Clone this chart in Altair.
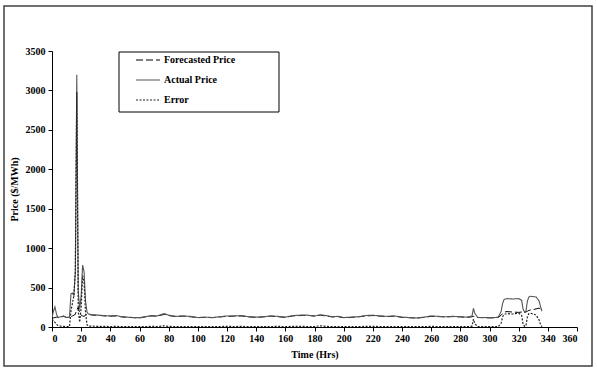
import altair as alt
import pandas as pd

hours = [0, 1, 2, 3, 4, 6, 8, 10, 12, 13, 14, 15, 16, 17, 18, 19, 20, 21, 22, 23, 24, 25,
         28, 32, 36, 40, 44, 48, 52, 56, 60, 64, 68, 72, 77, 80, 85, 90, 95, 100, 105, 110,
         115, 120, 125, 130, 135, 140, 145, 150, 155, 160, 165, 170, 175, 180, 184, 188, 192,
         196, 200, 205, 210, 215, 220, 225, 230, 235, 240, 245, 250, 255, 260, 265, 270, 275,
         280, 285, 288, 289, 290, 292, 296, 300, 304, 306, 308, 309, 310, 312, 316, 320, 322,
         323, 324, 325, 326, 327, 328, 330, 332, 334, 335, 336]

actual = [120, 200, 255, 170, 120, 130, 140, 120, 125, 420, 430, 400, 700, 3200, 450, 230, 400,
          785, 700, 330, 190, 165, 155, 150, 145, 140, 145, 130, 125, 120, 118, 130, 145, 140,
          170, 150, 135, 140, 135, 120, 125, 120, 130, 140, 140, 145, 130, 125, 130, 140, 135,
          125, 145, 150, 150, 140, 155, 145, 130, 135, 120, 125, 130, 145, 150, 140, 135, 140,
          125, 120, 115, 125, 140, 135, 130, 135, 130, 125, 140, 235, 170, 120, 120, 118, 120,
          125, 200, 300, 350, 360, 355, 360, 340, 230, 190, 200, 330, 380, 390, 385, 380, 330,
          260, 200]

forecast = [110, 115, 120, 125, 120, 125, 135, 120, 125, 130, 140, 150, 160, 220, 250, 180, 150,
            140, 135, 150, 160, 160, 150, 148, 140, 138, 140, 128, 122, 118, 115, 128, 140, 138,
            160, 145, 132, 138, 130, 118, 122, 118, 128, 135, 138, 140, 128, 122, 128, 138, 130,
            122, 140, 145, 148, 138, 150, 140, 128, 132, 118, 122, 128, 140, 145, 138, 132, 138,
            122, 118, 112, 122, 135, 132, 128, 132, 128, 122, 130, 135, 130, 120, 118, 116, 118,
            122, 150, 170, 190, 195, 190, 185, 190, 200, 185, 190, 200, 210, 215, 220, 230, 240,
            230, 200]

error = [100, 80, 60, 35, 20, 10, 8, 5, 5, 200, 300, 400, 700, 2980, 200, 60, 250, 650, 560, 180,
         30, 10, 10, 8, 8, 6, 8, 5, 5, 4, 5, 5, 8, 6, 15, 8, 5, 6, 6, 4, 5, 4, 5, 8, 6, 8, 5, 5,
         5, 6, 8, 5, 8, 8, 6, 6, 15, 8, 5, 6, 4, 5, 5, 8, 8, 6, 6, 5, 5, 4, 4, 5, 8, 5, 4, 5, 4,
         5, 10, 100, 40, 5, 4, 4, 4, 5, 50, 130, 160, 170, 165, 175, 150, 40, 8, 15, 130, 170,
         175, 165, 150, 90, 30, 5]

series_names = ["Forecasted Price", "Actual Price", "Error"]
x_ticks = list(range(0, 361, 20))
y_ticks = list(range(0, 3501, 500))

rows = []
for name, vals in zip(series_names, [forecast, actual, error]):
    for h, v in zip(hours, vals):
        rows.append({"Time": h, "Price": v, "Series": name})
df = pd.DataFrame(rows)

FONT = "Liberation Serif"

lines = alt.Chart(df).mark_line(clip=True).encode(
    x=alt.X("Time:Q", scale=alt.Scale(domain=[0, 360], nice=False),
            axis=alt.Axis(values=x_ticks, format="d", title="Time (Hrs)", grid=False,
                          tickSize=4, labelPadding=2, titlePadding=6)),
    y=alt.Y("Price:Q", scale=alt.Scale(domain=[0, 3500], nice=False),
            axis=alt.Axis(values=y_ticks, format="d", title="Price ($/MWh)", grid=False,
                          tickSize=4, labelPadding=3, titlePadding=6)),
    color=alt.Color("Series:N", sort=series_names,
                    scale=alt.Scale(domain=series_names, range=["#000000", "#555555", "#222222"]),
                    legend=alt.Legend(title=None, orient="none", legendX=83, legendY=3,
                                      symbolType="stroke", symbolSize=576, clipHeight=12,
                                      rowPadding=8, padding=0, labelOffset=3,
                                      symbolStrokeWidth=1)),
    strokeDash=alt.StrokeDash("Series:N", sort=series_names,
                              scale=alt.Scale(domain=series_names,
                                              range=[[7, 3], [1, 0], [2, 1.5]]),
                              legend=None),
    strokeWidth=alt.StrokeWidth("Series:N", sort=series_names,
                                scale=alt.Scale(domain=series_names, range=[1, 1.2, 0.8]),
                                legend=None),
)

legend_box = alt.Chart(pd.DataFrame({"a": [0]})).mark_rect(
    fill="white", stroke="black", strokeWidth=1
).encode(x=alt.value(67), x2=alt.value(227), y=alt.value(1), y2=alt.value(61))

frame = alt.Chart(pd.DataFrame({"a": [0]})).mark_rect(
    fill=None, stroke="#404040", strokeWidth=1.5
).encode(x=alt.value(-48), x2=alt.value(540), y=alt.value(-45), y2=alt.value(315))

chart = alt.layer(frame, legend_box, lines).properties(
    width=525, height=276,
    autosize=alt.AutoSizeParams(type="none"),
    padding={"left": 52, "top": 51, "right": 20, "bottom": 45},
    background="white",
).configure_view(stroke=None).configure_axis(
    domainColor="black", tickColor="black", labelColor="black", titleColor="black",
    labelFont=FONT, titleFont=FONT, labelFontWeight="bold", titleFontWeight="bold",
    labelFontSize=10, titleFontSize=10,
).configure_legend(
    labelFont=FONT, labelFontWeight="bold", labelFontSize=10, labelColor="black",
)

chart.save("out.html", embed_options={"renderer": "svg", "actions": False})
